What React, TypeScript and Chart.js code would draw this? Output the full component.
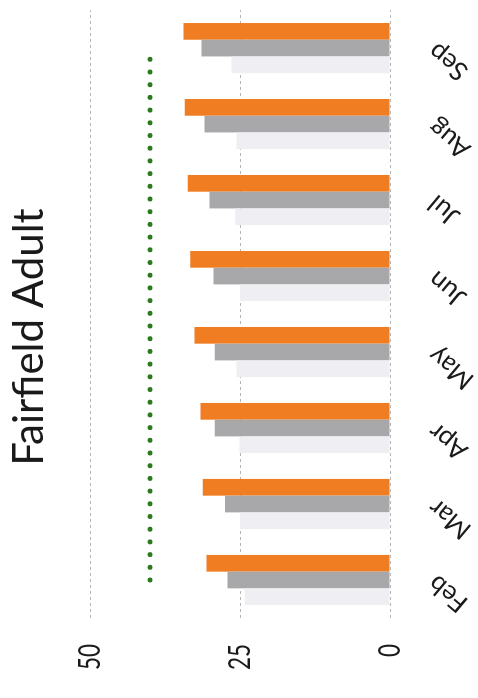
import React, { useEffect, useRef } from "react";
import { Chart, registerables } from "chart.js";

Chart.register(...registerables);

// Monthly adult figures for Fairfield
const months = ["Feb", "Mar", "Apr", "May", "Jun", "Jul", "Aug", "Sep"];
const seriesLight = [24.2, 25.0, 25.1, 25.6, 25.0, 25.8, 25.6, 26.4];
const seriesGray = [27.1, 27.5, 29.2, 29.2, 29.4, 30.1, 30.9, 31.4];
const seriesOrange = [30.6, 31.2, 31.6, 32.6, 33.3, 33.7, 34.2, 34.4];
const targetLine = [40, 40, 40, 40, 40, 40, 40, 40];
const valueTicks = [0, 25, 50];

const FONT = "Lato, 'Open Sans', sans-serif";
const CHART_W = 698;
const CHART_H = 478;

// Value-axis labels in a condensed setting: drawn at each tick of the y scale
const condensedTickLabels = {
  id: "condensedTickLabels",
  afterDraw(chart: any) {
    const { ctx, scales, chartArea } = chart;
    const y = scales.y;
    ctx.save();
    ctx.fillStyle = "#1a1a1a";
    ctx.font = `30px ${FONT}`;
    ctx.textAlign = "right";
    ctx.textBaseline = "middle";
    y.ticks.forEach((t: any) => {
      const py = y.getPixelForValue(t.value);
      ctx.save();
      ctx.translate(chartArea.left - 26, py);
      ctx.scale(0.75, 1);
      ctx.fillText(String(t.value), 0, 0);
      ctx.restore();
    });
    ctx.restore();
  },
};

export default function App() {
  const canvasRef = useRef<HTMLCanvasElement | null>(null);

  useEffect(() => {
    const canvas = canvasRef.current;
    if (!canvas) return;
    const chart = new Chart(canvas, {
      type: "bar",
      data: {
        labels: months,
        datasets: [
          {
            type: "line",
            label: "Target",
            data: targetLine,
            borderColor: "#2b7a1e",
            borderWidth: 5,
            borderDash: [0, 12.7],
            borderCapStyle: "round",
            pointRadius: 0,
            fill: false,
            order: 0,
          },
          {
            label: "Light",
            data: seriesLight,
            backgroundColor: "#eeeef3",
            categoryPercentage: 0.66,
            barPercentage: 1.0,
            order: 1,
          },
          {
            label: "Gray",
            data: seriesGray,
            backgroundColor: "#a8a8aa",
            categoryPercentage: 0.66,
            barPercentage: 1.0,
            order: 1,
          },
          {
            label: "Orange",
            data: seriesOrange,
            backgroundColor: "#f07d22",
            categoryPercentage: 0.66,
            barPercentage: 1.0,
            order: 1,
          },
        ],
      },
      options: {
        responsive: false,
        animation: false,
        devicePixelRatio: 1,
        layout: { padding: { left: 27, right: 3, top: 0, bottom: 0 } },
        plugins: {
          legend: { display: false },
          tooltip: { enabled: false },
          title: {
            display: true,
            text: "Fairfield Adult",
            color: "#1a1a1a",
            font: { family: FONT, size: 42, weight: "normal", lineHeight: 1.2 },
            padding: { top: 4, bottom: 35.6 },
          },
        },
        scales: {
          x: {
            grid: { display: false },
            border: { display: false },
            ticks: {
              color: "#1a1a1a",
              font: { family: FONT, size: 26 },
              minRotation: 50,
              maxRotation: 50,
              padding: 24,
            },
            afterFit: (scale: any) => {
              scale.height = 88;
            },
          },
          y: {
            min: 0,
            max: 50,
            afterBuildTicks: (scale: any) => {
              scale.ticks = valueTicks.map((v) => ({ value: v }));
            },
            grid: {
              color: "#b4b4b4",
              lineWidth: 1,
              drawTicks: false,
            },
            border: { display: false, dash: [3, 3] },
            ticks: { display: false },
            afterFit: (scale: any) => {
              scale.width = 53;
            },
          },
        },
      },
      plugins: [condensedTickLabels],
    });
    return () => chart.destroy();
  }, []);

  return (
    <div
      style={{
        position: "fixed",
        left: 0,
        top: 0,
        width: CHART_H,
        height: CHART_W,
        overflow: "hidden",
        background: "#ffffff",
      }}
    >
      <div
        style={{
          position: "absolute",
          left: 0,
          top: 0,
          width: CHART_W,
          height: CHART_H,
          transformOrigin: "0 0",
          transform: `translate(0px, ${CHART_W}px) rotate(-90deg)`,
        }}
      >
        <canvas ref={canvasRef} width={CHART_W} height={CHART_H} />
      </div>
    </div>
  );
}
